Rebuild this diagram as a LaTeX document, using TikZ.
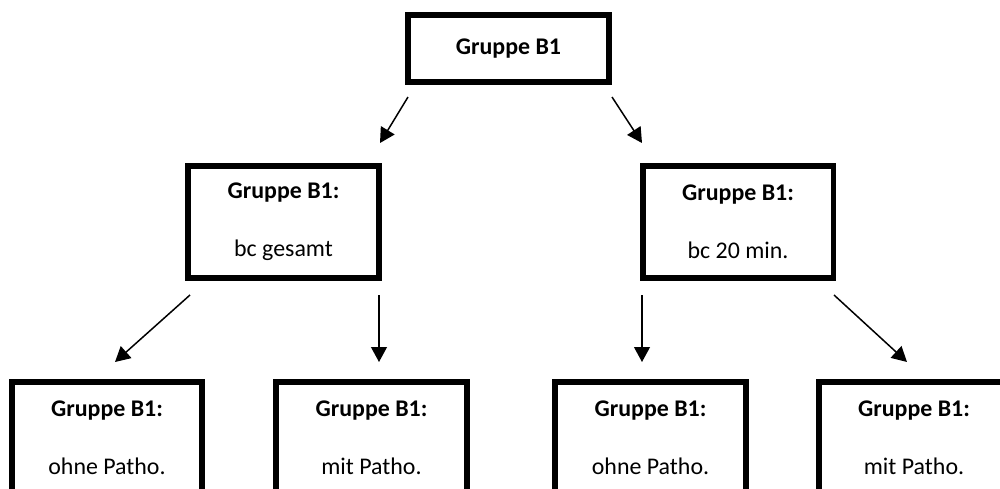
\documentclass[tikz,border=0pt]{standalone}
\usepackage{fontspec}
\setmainfont{Carlito}
\usepackage{tikz}
\usetikzlibrary{arrows.meta}

\begin{document}
\begin{tikzpicture}[x=0.02cm,y=-0.02cm,>={Triangle[length=8.5pt,width=9pt]}]
		\tikzstyle{gruppe}=[rectangle, draw=black, line width=3.4pt, align=center, font=\fontsize{13.6}{16}\selectfont, minimum width=3.82cm, minimum height=2.24cm, inner sep=0pt]
		\tikzstyle{gruppe top}=[gruppe, minimum width=4.02cm, minimum height=1.34cm]
		\tikzstyle{pfeil}=[->, line width=0.85pt]

		\path[use as bounding box, clip] (0,0) rectangle (1000,488);

		\node [gruppe top] (top) at (508.5,48.5) {\textbf{Gruppe B1}};

		\node [gruppe] (gesamt) at (283.5,222) {\textbf{Gruppe B1:}\\[17pt]bc gesamt};
		\node [gruppe] (min) at (738,222) {\textbf{Gruppe B1:}\\[17pt]bc 20 min.};

		\node [gruppe] (g-ohne) at (107,438) {\textbf{Gruppe B1:}\\[17pt]ohne Patho.};
		\node [gruppe] (g-mit) at (371.5,438) {\textbf{Gruppe B1:}\\[17pt]mit Patho.};
		\node [gruppe] (m-ohne) at (650.5,438) {\textbf{Gruppe B1:}\\[17pt]ohne Patho.};
		\node [gruppe] (m-mit) at (914,438) {\textbf{Gruppe B1:}\\[17pt]mit Patho.};

		% Pfeile
		\coordinate (p1) at (408,97);  \coordinate (q1) at (380,143);
		\coordinate (p2) at (612,97);  \coordinate (q2) at (642,143);
		\coordinate (p3) at (190,295); \coordinate (q3) at (115,362);
		\coordinate (p4) at (379,295); \coordinate (q4) at (379,362);
		\coordinate (p5) at (642,295); \coordinate (q5) at (642,362);
		\coordinate (p6) at (834,295); \coordinate (q6) at (907,362);

		\draw [pfeil] (p1) -- (q1);
		\draw [pfeil] (p2) -- (q2);
		\draw [pfeil] (p3) -- (q3);
		\draw [pfeil] (p4) -- (q4);
		\draw [pfeil] (p5) -- (q5);
		\draw [pfeil] (p6) -- (q6);
	\end{tikzpicture}
\end{document}
